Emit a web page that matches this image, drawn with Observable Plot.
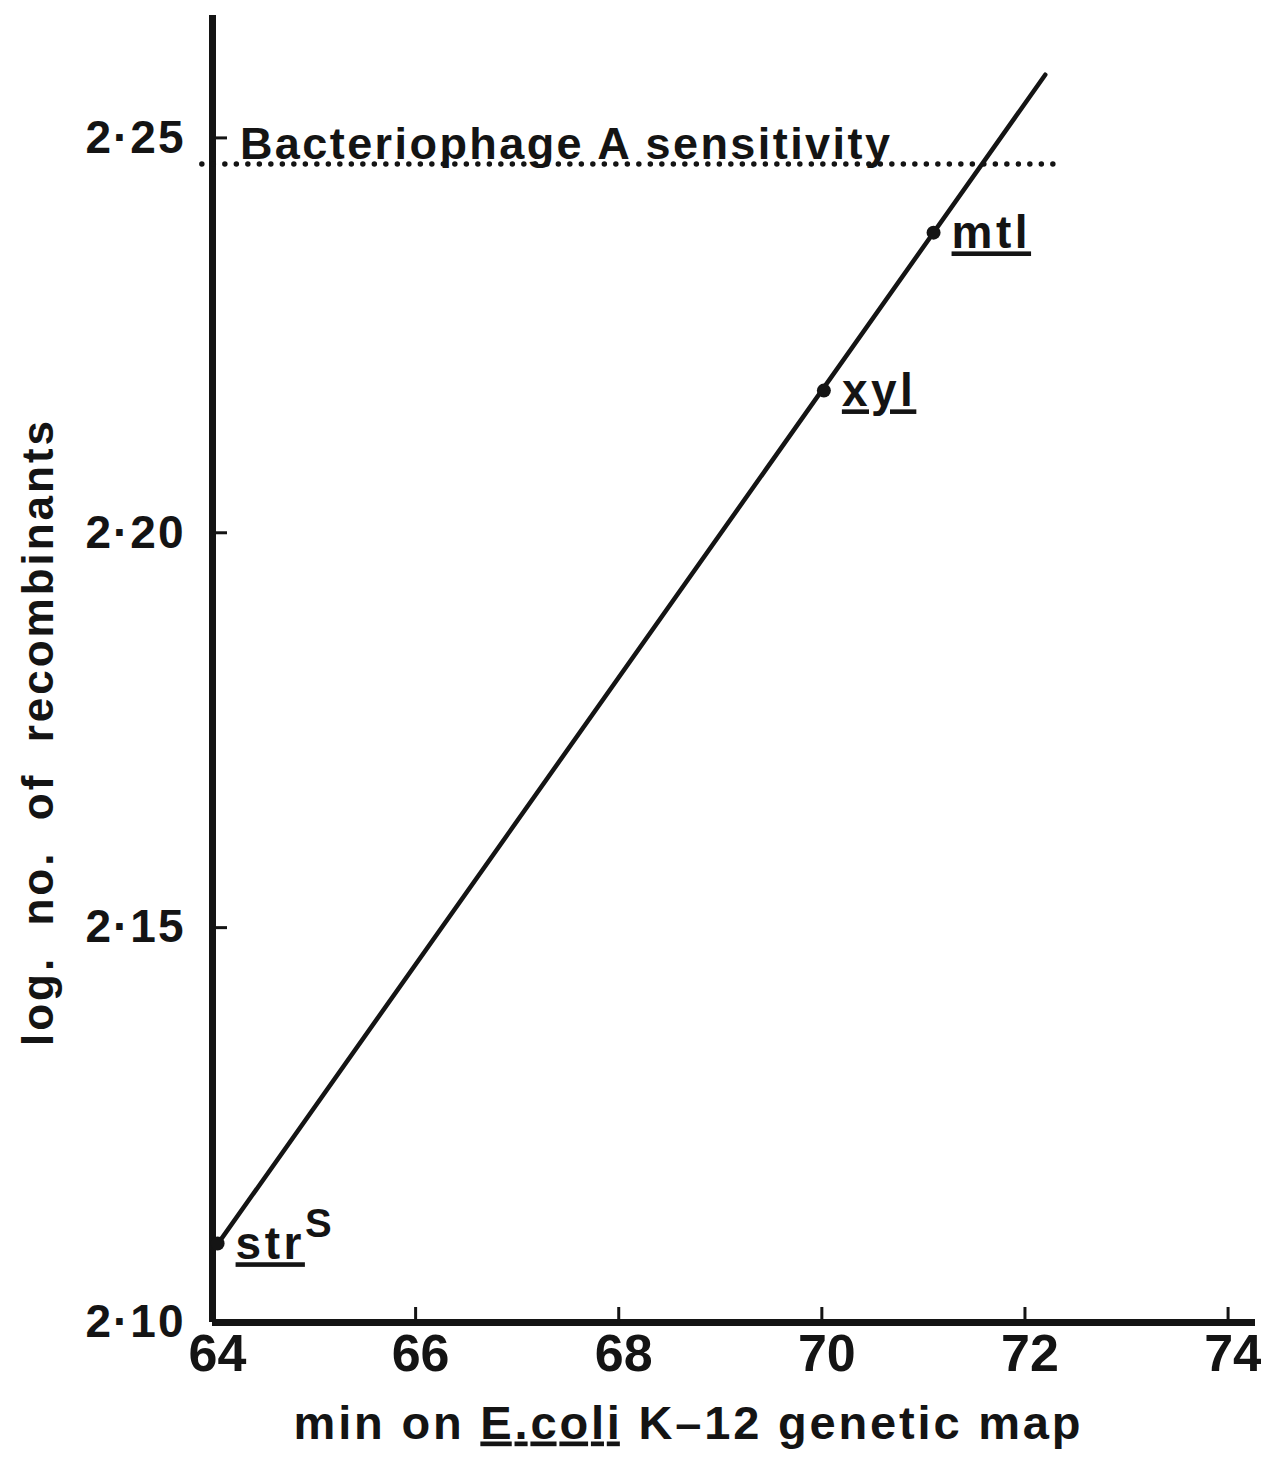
<!DOCTYPE html>
<html>
<head>
<meta charset="utf-8">
<script src="https://cdn.jsdelivr.net/npm/d3@7"></script>
<script src="https://cdn.jsdelivr.net/npm/@observablehq/plot@0.6"></script>
<style>
  body { margin: 0; background: #fff; }
  #chart svg { display: block; }
  #chart tspan.ul { text-decoration: underline; text-decoration-thickness: 4px; text-underline-offset: 8px; }
</style>
</head>
<body>
<div id="chart"></div>
<script>
// Axis ticks
const xTicks = [64, 66, 68, 70, 72, 74];
const yTicks = [2.10, 2.15, 2.20, 2.25];
const xAxisEnd = 74.27;
const yAxisTop = 2.2655;

// Mapped markers: map position (min) and log. no. of recombinants
const markerNames = ["str", "xyl", "mtl"];
const markerSup = ["S", "", ""];
const markerMin = [64.05, 70.02, 71.1];
const markerLog = [2.110, 2.218, 2.238];

// Fitted straight line through the markers
const fitMin = [64.0, 72.2];
const fitLog = [2.109, 2.258];

// Bacteriophage A sensitivity level
const phageLabel = "Bacteriophage A sensitivity";
const phageLog = 2.2467;
const phageSpan = [63.9, 72.3];
const phageLabelMin = 64.27;
const phageLabelLog = 2.2492;

// Titles and underlined gene/organism names
const xTitleParts = ["min on ", "E.coli", " K–12 genetic map"];
const yTitle = "log.  no.  of  recombinants";
const underlined = ["E.coli", "str", "xyl", "mtl"];

const markers = markerNames.map((name, i) => ({name, sup: markerSup[i], min: markerMin[i], log: markerLog[i]}));
const fit = fitMin.map((m, i) => ({min: m, log: fitLog[i]}));

const W = 1261, H = 1458;
const mL = 212, mR = 6, mT = 15, mB = 136;
const plotW = W - mL - mR, plotH = H - mT - mB;
const ink = "#141414";
const font = "'Liberation Sans', Arial, Helvetica, sans-serif";
const fmt = d => d.toFixed(2).replace(".", "·");

const chart = Plot.plot({
  width: W,
  height: H,
  marginLeft: mL,
  marginRight: mR,
  marginTop: mT,
  marginBottom: mB,
  style: {fontFamily: font, color: ink, background: "#fff"},
  x: {domain: [64, xAxisEnd], axis: null},
  y: {domain: [2.10, yAxisTop], axis: null},
  marks: [
    // axes
    Plot.ruleX([64], {stroke: ink, strokeWidth: 7}),
    Plot.ruleY([2.10], {stroke: ink, strokeWidth: 7}),
    // inward ticks
    Plot.tickY(yTicks.filter(d => d > 2.10), {y: d => d, stroke: ink, strokeWidth: 3, insetRight: plotW - 15}),
    Plot.tickX(xTicks.filter(d => d > 64), {x: d => d, stroke: ink, strokeWidth: 3, insetTop: plotH - 15}),
    // tick labels
    Plot.text(yTicks, {x: 64, y: d => d, text: fmt, textAnchor: "end", dx: -27, fontSize: 46, fontWeight: "bold", fill: ink}),
    Plot.text(xTicks, {x: d => d, y: 2.10, text: d => String(d), dy: 32, dx: 5, fontSize: 52, fontWeight: "bold", fill: ink}),
    // titles
    Plot.text([xTitleParts.join("")], {frameAnchor: "bottom", dy: 116, dx: -47, fontSize: 47, fontWeight: "bold", fill: ink}),
    Plot.text([yTitle], {frameAnchor: "left", rotate: -90, textAnchor: "start", dx: -174, dy: 377, fontSize: 44, fontWeight: "bold", fill: ink}),
    // phage sensitivity level
    Plot.ruleY([phageLog], {x1: phageSpan[0], x2: phageSpan[1], stroke: ink, strokeWidth: 5.5, strokeDasharray: "0 11.5", strokeLinecap: "round"}),
    Plot.text([phageLabel], {x: phageLabelMin, y: phageLabelLog, textAnchor: "start", fontSize: 45, fontWeight: "bold", fill: ink}),
    // fitted line and markers
    Plot.line(fit, {x: "min", y: "log", stroke: ink, strokeWidth: 4.5}),
    Plot.dot(markers, {x: "min", y: "log", r: 7, fill: ink}),
    Plot.text(markers, {x: "min", y: "log", text: d => d.name + d.sup, textAnchor: "start", dx: 18, dy: 1, fontSize: 46, fontWeight: "bold", fill: ink})
  ]
});

document.getElementById("chart").append(chart);

// Underline gene/organism names, raise superscripts, spread long labels
const svg = d3.select(chart);
svg.selectAll("text").each(function() {
  const s = this.textContent;
  const el = d3.select(this);
  if (s === xTitleParts.join("")) {
    el.text(null);
    xTitleParts.forEach(p => {
      const t = el.append("tspan").text(p);
      if (underlined.includes(p)) t.attr("class", "ul");
    });
    el.attr("textLength", 787).attr("lengthAdjust", "spacing");
    return;
  }
  if (s === yTitle) {
    el.style("white-space", "pre").attr("textLength", 625).attr("lengthAdjust", "spacing");
    return;
  }
  if (s === phageLabel) {
    el.attr("textLength", 650).attr("lengthAdjust", "spacing");
    return;
  }
  const m = markers.find(d => d.name + d.sup === s);
  if (m) {
    el.text(null);
    el.append("tspan").attr("class", "ul").text(m.name);
    if (m.sup) el.append("tspan").attr("dy", -22).attr("font-size", 40).text(m.sup);
    el.style("letter-spacing", "3.5px");
    return;
  }
  if (/^2·/.test(s)) el.style("letter-spacing", "2px");
});
</script>
</body>
</html>
